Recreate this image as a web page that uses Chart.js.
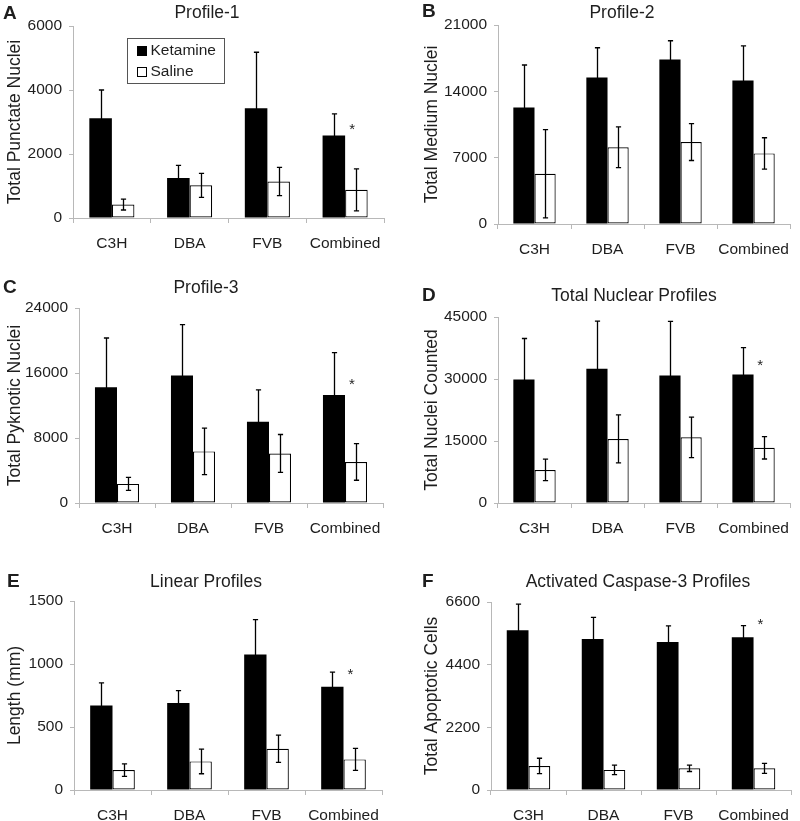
<!DOCTYPE html>
<html>
<head>
<meta charset="utf-8">
<script src="https://cdn.jsdelivr.net/npm/chart.js@4.4.1/dist/chart.umd.min.js"></script>
<style>
html,body{margin:0;padding:0;background:#fff;width:800px;height:821px;overflow:hidden}
.p{position:absolute}
canvas{display:block}
</style>
</head>
<body>
<div class="p" style="left:0;top:0"><canvas id="cA" width="400" height="262"></canvas></div>
<div class="p" style="left:400px;top:0"><canvas id="cB" width="400" height="262"></canvas></div>
<div class="p" style="left:0;top:262px"><canvas id="cC" width="400" height="278"></canvas></div>
<div class="p" style="left:400px;top:262px"><canvas id="cD" width="400" height="278"></canvas></div>
<div class="p" style="left:0;top:540px"><canvas id="cE" width="400" height="281"></canvas></div>
<div class="p" style="left:400px;top:540px"><canvas id="cF" width="400" height="281"></canvas></div>
<script>
// ---------- data ----------
const categories = ['C3H', 'DBA', 'FVB', 'Combined'];
const seriesNames = ['Ketamine', 'Saline'];

// A: Profile-1
const p1Ketamine    = [3120, 1250, 3430, 2580];
const p1KetamineErr = [880, 395, 1750, 676];
const p1Saline      = [420, 1020, 1140, 880];
const p1SalineErr   = [170, 375, 440, 655];
const p1Ticks = [0, 2000, 4000, 6000];
const p1Star = 2912;

// B: Profile-2
const p2Ketamine    = [12300, 15450, 17350, 15150];
const p2KetamineErr = [4480, 3150, 1990, 3650];
const p2Saline      = [5300, 8100, 8650, 7450];
const p2SalineErr   = [4650, 2150, 1950, 1650];
const p2Ticks = [0, 7000, 14000, 21000];

// C: Profile-3
const p3Ketamine    = [14250, 15700, 10000, 13300];
const p3KetamineErr = [6060, 6260, 3930, 5200];
const p3Saline      = [2350, 6350, 6100, 5050];
const p3SalineErr   = [800, 2860, 2330, 2250];
const p3Ticks = [0, 8000, 16000, 24000];
const p3Star = 15130;

// D: Total Nuclear Profiles
const totKetamine    = [29900, 32500, 30850, 31100];
const totKetamineErr = [9900, 11500, 13100, 6500];
const totSaline      = [8000, 15500, 15900, 13350];
const totSalineErr   = [2600, 5800, 4900, 2700];
const totTicks = [0, 15000, 30000, 45000];
const totStar = 34390;

// E: Linear Profiles
const linKetamine    = [670, 690, 1075, 820];
const linKetamineErr = [180, 98, 277, 116];
const linSaline      = [158, 227, 327, 243];
const linSalineErr   = [50, 98, 108, 87];
const linTicks = [0, 500, 1000, 1500];
const linStar = 951;

// F: Activated Caspase-3 Profiles
const casKetamine    = [5610, 5300, 5200, 5360];
const casKetamineErr = [915, 760, 560, 410];
const casSaline      = [845, 705, 760, 760];
const casSalineErr   = [270, 165, 110, 175];
const casTicks = [0, 2200, 4400, 6600];
const casStar = 5942;

// ---------- style ----------
const FONT = '"Liberation Sans", Arial, Helvetica, sans-serif';
const TXT = '#1e1e1e';
const AXIS = '#b8b8b8';
Chart.defaults.font.family = FONT;
Chart.defaults.color = TXT;

const errorBarPlugin = {
  id: 'errorBars',
  afterDatasetsDraw(chart) {
    const ctx = chart.ctx, ys = chart.scales.y, cap = 2.6;
    chart.data.datasets.forEach((ds, di) => {
      const meta = chart.getDatasetMeta(di);
      meta.data.forEach((bar, i) => {
        const v = ds.data[i], e = ds.errors[i];
        const x = Math.round(bar.x) + 0.5;
        const yt = ys.getPixelForValue(v + e), yb = ys.getPixelForValue(Math.max(v - e, 0));
        ctx.save();
        ctx.strokeStyle = '#000';
        ctx.lineWidth = 1.3;
        ctx.beginPath();
        ctx.moveTo(x, yt); ctx.lineTo(x, yb);
        ctx.moveTo(x - cap, yt); ctx.lineTo(x + cap, yt);
        ctx.moveTo(x - cap, yb); ctx.lineTo(x + cap, yb);
        ctx.stroke();
        ctx.restore();
      });
    });
  }
};

const panelTextPlugin = {
  id: 'panelText',
  afterDraw(chart, args, o) {
    const ctx = chart.ctx;
    ctx.save();
    ctx.fillStyle = TXT;
    ctx.textBaseline = 'middle';
    ctx.font = 'bold 19px ' + FONT;
    ctx.textAlign = 'left';
    ctx.fillText(o.letter, o.letterX, o.letterY);
    ctx.font = '17.5px ' + FONT;
    ctx.textAlign = 'center';
    ctx.fillText(o.title, o.titleX, o.titleY);
    if (o.star != null) {
      const xs = chart.scales.x, ys = chart.scales.y;
      const cw = xs.getPixelForValue(1) - xs.getPixelForValue(0);
      const sx = xs.getPixelForValue(categories.length - 1) + cw * 0.09;
      const sy = ys.getPixelForValue(o.star);
      ctx.font = '15px ' + FONT;
      ctx.textBaseline = 'alphabetic';
      ctx.fillText('*', sx, sy + 15 * 0.58);
    }
    ctx.restore();
  }
};

const boxLegendPlugin = {
  id: 'boxLegend',
  afterDraw(chart, args, o) {
    if (!o.show) return;
    const ctx = chart.ctx, ca = chart.chartArea;
    const bx = ca.left + 54, by = ca.top + 12;
    ctx.save();
    ctx.fillStyle = '#fff';
    ctx.fillRect(bx, by, 97, 45);
    ctx.strokeStyle = '#555';
    ctx.lineWidth = 1;
    ctx.strokeRect(bx + 0.5, by + 0.5, 97, 45);
    ctx.font = '15.5px ' + FONT;
    ctx.textBaseline = 'middle';
    ctx.textAlign = 'left';
    chart.data.datasets.forEach((ds, i) => {
      const sy = by + 8 + i * 21;
      ctx.fillStyle = ds.backgroundColor;
      ctx.fillRect(bx + 10, sy, 10, 10);
      ctx.strokeStyle = '#000';
      ctx.strokeRect(bx + 10.5, sy + 0.5, 9, 9);
      ctx.fillStyle = TXT;
      ctx.fillText(ds.label, bx + 23.5, sy + 5);
    });
    ctx.restore();
  }
};

function makePanel(id, cfg, L) {
  const ticks = cfg.ticks;
  new Chart(document.getElementById(id), {
    type: 'bar',
    data: {
      labels: categories,
      datasets: [
        { label: seriesNames[0], data: cfg.ket, errors: cfg.ketErr,
          backgroundColor: '#000000', borderColor: '#000000', borderWidth: 0 },
        { label: seriesNames[1], data: cfg.sal, errors: cfg.salErr,
          backgroundColor: '#ffffff', borderColor: '#000000', borderWidth: 1.2, borderSkipped: false }
      ]
    },
    options: {
      responsive: false,
      animation: false,
      devicePixelRatio: 1,
      layout: { padding: { top: L.top, right: L.right, left: 0, bottom: 0 } },
      datasets: { bar: { categoryPercentage: 0.58, barPercentage: 1.0 } },
      plugins: {
        legend: { display: false },
        tooltip: { enabled: false },
        title: { display: false },
        panelText: { letter: cfg.letter, title: cfg.title, letterX: L.lx, letterY: L.ly,
                     titleX: L.tx, titleY: L.ty, star: cfg.star },
        boxLegend: { show: !!cfg.legend }
      },
      scales: {
        x: {
          grid: { display: true, drawOnChartArea: false, drawTicks: true, tickLength: 5,
                  color: AXIS, offset: true },
          border: { color: AXIS, width: 1 },
          ticks: { color: TXT, font: { size: 15.5 }, padding: 11, maxRotation: 0, autoSkip: false },
          afterFit(s) { s.height = L.xh; }
        },
        y: {
          min: ticks[0],
          max: ticks[ticks.length - 1],
          afterBuildTicks(s) { s.ticks = ticks.map(v => ({ value: v })); },
          grid: { drawOnChartArea: false, drawTicks: true, tickLength: 4, color: AXIS },
          border: { color: AXIS, width: 1 },
          ticks: { color: TXT, font: { size: 15.5 }, padding: 7, callback: v => String(v) },
          title: { display: true, text: cfg.ylabel, color: TXT, font: { size: 17.5 },
                   padding: { top: L.ytp, bottom: 0 } },
          afterFit(s) { s.width = L.yw; }
        }
      }
    },
    plugins: [errorBarPlugin, panelTextPlugin, boxLegendPlugin]
  });
}

makePanel('cA', { letter: 'A', title: 'Profile-1', ylabel: 'Total Punctate Nuclei',
  ket: p1Ketamine, ketErr: p1KetamineErr, sal: p1Saline, salErr: p1SalineErr,
  ticks: p1Ticks, star: p1Star, legend: true },
  { top: 26, right: 16, yw: 73, xh: 44, ytp: 4.5, lx: 3, ly: 14, tx: 207, ty: 13.5 });

makePanel('cB', { letter: 'B', title: 'Profile-2', ylabel: 'Total Medium Nuclei',
  ket: p2Ketamine, ketErr: p2KetamineErr, sal: p2Saline, salErr: p2SalineErr,
  ticks: p2Ticks, star: null },
  { top: 25, right: 1, yw: 98, xh: 38, ytp: 21.2, lx: 22, ly: 12, tx: 222, ty: 13 });

makePanel('cC', { letter: 'C', title: 'Profile-3', ylabel: 'Total Pyknotic Nuclei',
  ket: p3Ketamine, ketErr: p3KetamineErr, sal: p3Saline, salErr: p3SalineErr,
  ticks: p3Ticks, star: p3Star },
  { top: 46, right: 17, yw: 79, xh: 37, ytp: 4.5, lx: 3, ly: 26, tx: 206, ty: 26 });

makePanel('cD', { letter: 'D', title: 'Total Nuclear Profiles', ylabel: 'Total Nuclei Counted',
  ket: totKetamine, ketErr: totKetamineErr, sal: totSaline, salErr: totSalineErr,
  ticks: totTicks, star: totStar },
  { top: 55, right: 1, yw: 98, xh: 37, ytp: 21.2, lx: 22, ly: 34, tx: 234, ty: 34 });

makePanel('cE', { letter: 'E', title: 'Linear Profiles', ylabel: 'Length (mm)',
  ket: linKetamine, ketErr: linKetamineErr, sal: linSaline, salErr: linSalineErr,
  ticks: linTicks, star: linStar },
  { top: 61, right: 18, yw: 74, xh: 31, ytp: 4.5, lx: 7, ly: 42, tx: 206, ty: 42 });

makePanel('cF', { letter: 'F', title: 'Activated Caspase-3 Profiles', ylabel: 'Total Apoptotic Cells',
  ket: casKetamine, ketErr: casKetamineErr, sal: casSaline, salErr: casSalineErr,
  ticks: casTicks, star: casStar },
  { top: 62, right: 1, yw: 91, xh: 31, ytp: 21.2, lx: 22, ly: 42, tx: 238, ty: 42 });
</script>
</body>
</html>
